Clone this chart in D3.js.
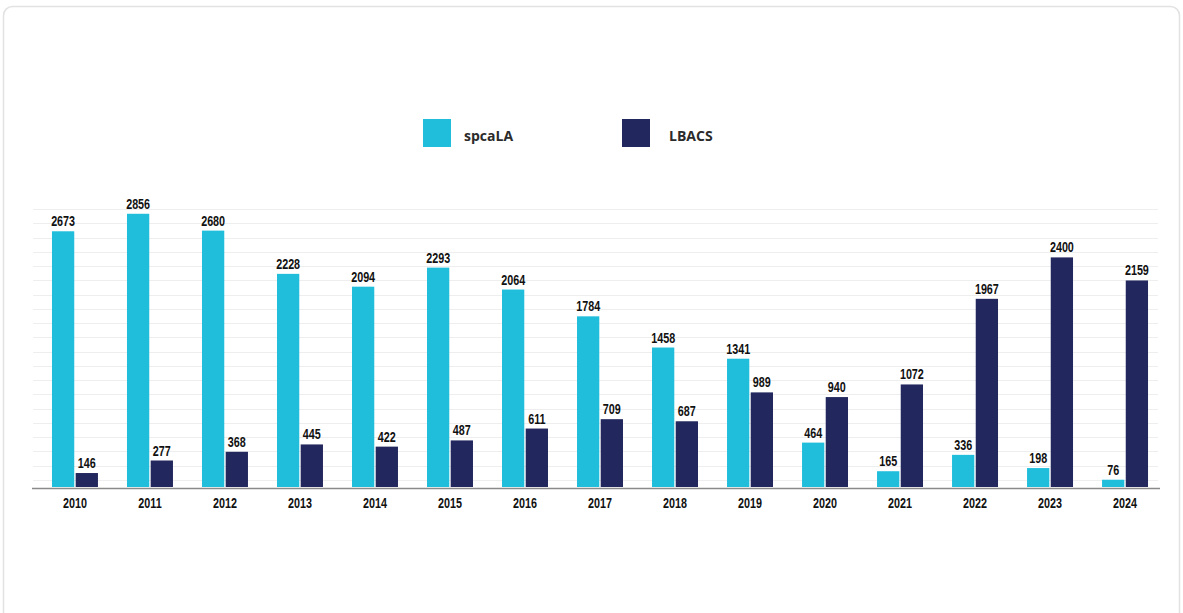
<!DOCTYPE html>
<html>
<head>
<meta charset="utf-8">
<script src="https://cdn.jsdelivr.net/npm/d3@7"></script>
<style>
  html, body { margin: 0; padding: 0; background: #fff; }
  svg { display: block; }
  .val, .tick-label {
    font-family: "Liberation Sans", Arial, sans-serif;
    font-weight: bold;
    font-size: 14px;
    fill: #111;
  }
  .legend-label {
    font-family: "Open Sans", sans-serif;
    font-weight: bold;
    font-size: 14px;
    fill: #2b2b2b;
  }
</style>
</head>
<body>
<div id="chart"></div>
<script>
// Animal shelter intake by year
const years = ['2010', '2011', '2012', '2013', '2014', '2015', '2016', '2017',
  '2018', '2019', '2020', '2021', '2022', '2023', '2024'];
const spcaLA = [2673, 2856, 2680, 2228, 2094, 2293, 2064, 1784, 1458, 1341, 464, 165, 336, 198, 76];
const lbacs = [146, 277, 368, 445, 422, 487, 611, 709, 687, 989, 940, 1072, 1967, 2400, 2159];
const seriesNames = ['spcaLA', 'LBACS'];
const seriesColors = ['#21bedc', '#22275d'];

const width = 1183;
const height = 613;
const narrow = 0.77; // squeeze labels to look condensed

const svg = d3.select('#chart')
  .append('svg')
  .attr('width', width)
  .attr('height', height);

// card background
svg.append('rect')
  .attr('x', 3.5)
  .attr('y', 6.5)
  .attr('width', 1176)
  .attr('height', 640)
  .attr('rx', 9)
  .attr('fill', '#fff')
  .attr('stroke', '#e2e2e2')
  .attr('stroke-width', 1.5);

// scales
const x = d3.scaleBand()
  .domain(years)
  .range([37.5, 1162.5])
  .paddingInner(0.387)
  .paddingOuter(0.193);

const xSub = d3.scaleBand()
  .domain(seriesNames)
  .range([0, x.bandwidth()])
  .paddingInner(0.06);

const y = d3.scaleLinear()
  .domain([0, 3000])
  .range([487, 200]);

// faint gridlines
const gridValues = d3.range(75, 2950, 149);
svg.append('g')
  .attr('class', 'grid')
  .selectAll('line')
  .data(gridValues)
  .enter()
  .append('line')
  .attr('x1', 33)
  .attr('x2', 1158)
  .attr('y1', d => Math.round(y(d)) + 0.5)
  .attr('y2', d => Math.round(y(d)) + 0.5)
  .attr('stroke', '#eeeeee')
  .attr('stroke-width', 1);

// bars
const rows = years.map((yr, i) => ({ year: yr, values: [spcaLA[i], lbacs[i]] }));

const groups = svg.append('g')
  .selectAll('g')
  .data(rows)
  .enter()
  .append('g')
  .attr('transform', d => `translate(${x(d.year)},0)`);

groups.selectAll('rect')
  .data(d => d.values.map((v, k) => ({ name: seriesNames[k], value: v, color: seriesColors[k] })))
  .enter()
  .append('rect')
  .attr('x', d => xSub(d.name))
  .attr('y', d => y(d.value))
  .attr('width', xSub.bandwidth())
  .attr('height', d => y(0) - y(d.value))
  .attr('fill', d => d.color);

groups.selectAll('text')
  .data(d => d.values.map((v, k) => ({ name: seriesNames[k], value: v })))
  .enter()
  .append('text')
  .attr('class', 'val')
  .attr('transform', d => `translate(${xSub(d.name) + xSub.bandwidth() / 2},${y(d.value) - 5}) scale(${narrow},1)`)
  .attr('text-anchor', 'middle')
  .text(d => d.value);

// x axis
const xAxis = d3.axisBottom(x).tickSize(0).tickPadding(0);
const axisG = svg.append('g')
  .attr('transform', `translate(0, ${y(0) + 1.5})`)
  .call(xAxis);
axisG.select('.domain').remove();
axisG.append('line')
  .attr('x1', 32)
  .attr('x2', 1160)
  .attr('stroke', '#8a8a8a')
  .attr('stroke-width', 1.5);
axisG.selectAll('.tick text')
  .attr('class', 'tick-label')
  .attr('fill', null)
  .attr('font-size', null)
  .attr('font-family', null)
  .attr('y', null)
  .attr('dy', null)
  .attr('transform', `translate(0,19) scale(${narrow},1)`);

// legend
const legend = svg.append('g')
  .selectAll('g')
  .data(seriesNames)
  .enter()
  .append('g')
  .attr('transform', (d, i) => `translate(${423 + i * 199}, 119)`);

legend.append('rect')
  .attr('width', 28)
  .attr('height', 28)
  .attr('fill', (d, i) => seriesColors[i]);

legend.append('text')
  .attr('class', 'legend-label')
  .attr('x', (d, i) => i === 0 ? 41 : 47)
  .attr('y', 22)
  .text(d => d);
</script>
</body>
</html>
